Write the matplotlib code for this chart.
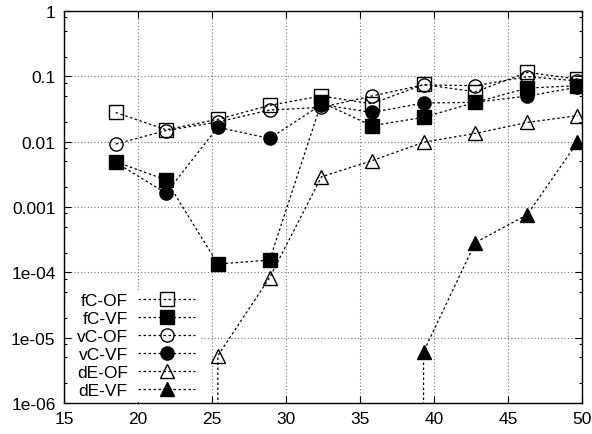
import matplotlib
matplotlib.use('Agg')
import matplotlib.pyplot as plt
import matplotlib.ticker as ticker
import numpy as np

plt.rcParams['font.family'] = ['Liberation Sans', 'DejaVu Sans']

x = [18.5, 21.9, 25.4, 28.9, 32.4, 35.8, 39.3, 42.8, 46.3, 49.7]

# 0 = no value (gnuplot drops the line to the bottom edge)
fc_of = [0.028, 0.0152, 0.022, 0.036, 0.050, 0.038, 0.075, 0.058, 0.115, 0.091]
fc_vf = [0.0049, 0.0026, 1.34e-4, 1.54e-4, 0.040, 0.0175, 0.0236, 0.040, 0.066, 0.072]
vc_of = [0.0092, 0.0148, 0.020, 0.0305, 0.0335, 0.050, 0.074, 0.072, 0.099, 0.085]
vc_vf = [0.0048, 0.00163, 0.0166, 0.0112, 0.037, 0.028, 0.039, 0.040, 0.050, 0.068]
de_of = [0, 0, 5.3e-6, 8.3e-5, 0.0029, 0.0051, 0.0098, 0.0134, 0.0197, 0.025]
de_vf = [0, 0, 0, 0, 0, 0, 6.1e-6, 2.86e-4, 7.6e-4, 0.0098]

series = [
    ('fC-OF', fc_of, 's', 'none'),
    ('fC-VF', fc_vf, 's', 'black'),
    ('vC-OF', vc_of, 'o', 'none'),
    ('vC-VF', vc_vf, 'o', 'black'),
    ('dE-OF', de_of, '^', 'none'),
    ('dE-VF', de_vf, '^', 'black'),
]

yticks = [1e-6, 1e-5, 1e-4, 1e-3, 1e-2, 1e-1, 1]
ylabels = ['1e-06', '1e-05', '1e-04', '0.001', '0.01', '0.1', '1']

fig = plt.figure(figsize=(5.92, 4.35), dpi=100)
ax = fig.add_axes([0.108, 0.0713, 0.875, 0.9011])

for name, vals, mk, fc in series:
    ax.plot(x, vals, color='black', lw=0.9, ls=(0, (2, 2)),
            marker=mk, markersize=9.5 if mk != '^' else 10,
            markerfacecolor=fc, markeredgecolor='black', markeredgewidth=1,
            label=name)

ax.set_yscale('log', nonpositive='clip')
ax.set_xlim(15, 50)
ax.set_ylim(1e-6, 1)
ax.set_xticks(range(15, 51, 5))
ax.set_yticks(yticks)
ax.set_yticklabels(ylabels)
ax.yaxis.set_minor_locator(ticker.LogLocator(base=10, subs=[2, 5, 8]))
ax.yaxis.set_minor_formatter(ticker.NullFormatter())

ax.tick_params(which='both', direction='in', top=True, right=True,
               labelsize=12.5, pad=6)
ax.tick_params(which='major', length=5, width=0.8)
ax.tick_params(which='minor', length=2.5, width=0.8)
for s in ax.spines.values():
    s.set_linewidth(1)

ax.grid(True, which='major', color='0.45', ls=(0, (1, 2)), lw=0.8)

leg = ax.legend(loc='lower left', bbox_to_anchor=(0.018, 0.004),
                borderaxespad=0, markerfirst=False, handlelength=3.3,
                labelspacing=0.16, fontsize=12.5, fancybox=False,
                framealpha=1, edgecolor='white', borderpad=0.2,
                handletextpad=0.6)

fig.savefig('out.png', dpi=100)
